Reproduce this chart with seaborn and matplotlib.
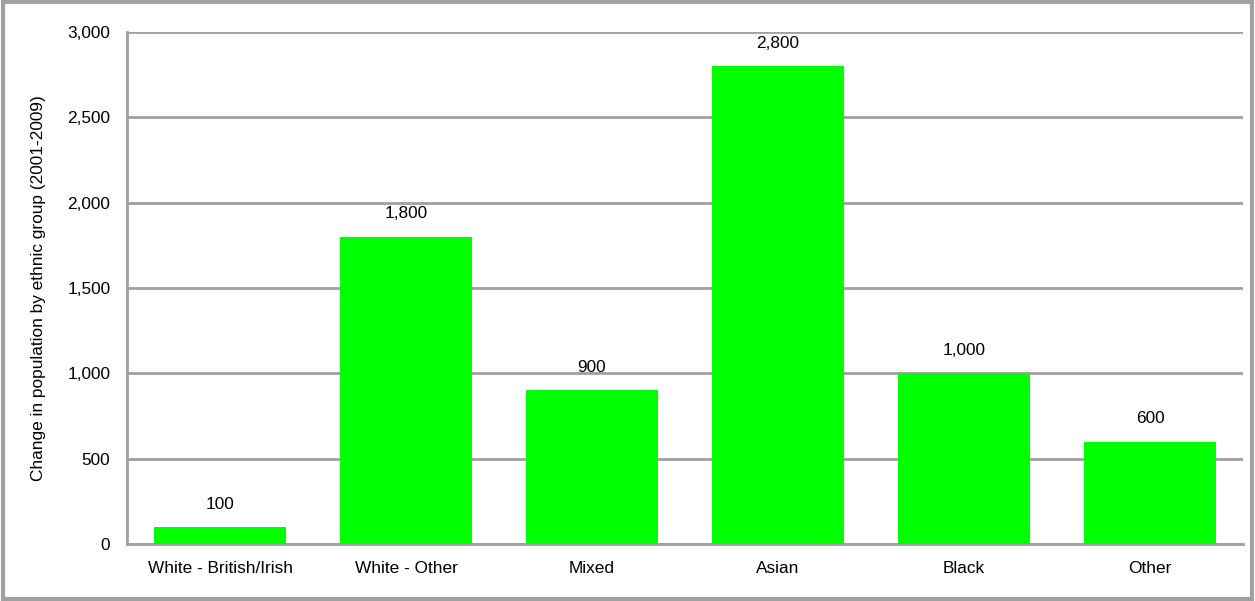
import matplotlib
matplotlib.use("Agg")
import matplotlib.pyplot as plt
import seaborn as sns
import pandas as pd
from matplotlib.patches import Rectangle

groups = ["White - British/Irish", "White - Other", "Mixed", "Asian", "Black", "Other"]
changes = [100, 1800, 900, 2800, 1000, 600]
y_ticks = [0, 500, 1000, 1500, 2000, 2500, 3000]

sns.set_theme(style="white")
plt.rcParams["font.family"] = ["Liberation Sans", "DejaVu Sans"]
plt.rcParams["text.color"] = "black"
plt.rcParams["xtick.labelcolor"] = "black"
plt.rcParams["ytick.labelcolor"] = "black"
plt.rcParams["axes.labelcolor"] = "black"

df = pd.DataFrame({"group": groups, "change": changes})

fig = plt.figure(figsize=(12.55, 6.01), dpi=100)
ax = fig.add_axes([127 / 1255, 1 - 544 / 601, (1243 - 127) / 1255, (544 - 32) / 601])

grey = "#a0a0a0"
fs = 12.4
sns.barplot(data=df, x="group", y="change", color="#00ff00", saturation=1,
            width=0.715, ax=ax, zorder=3)
for p in ax.patches:
    p.set_edgecolor("none")

ax.set_ylim(0, 3000)
ax.set_xlim(-0.5, len(groups) - 0.5)
ax.set_yticks(y_ticks)
ax.set_yticklabels([f"{v:,}" for v in y_ticks], fontsize=fs)
ax.yaxis.grid(True, color=grey, linewidth=2, zorder=0)
ax.set_axisbelow(True)

ax.set_xticks(range(len(groups)))
ax.set_xticklabels(groups, fontsize=fs)
ax.tick_params(axis="x", length=0, pad=12)
ax.set_xticks([i - 0.5 for i in range(len(groups) + 1)], minor=True)
ax.tick_params(axis="x", which="minor", length=6, width=2, color=grey, direction="out")
ax.tick_params(axis="y", length=6, width=2, color=grey, direction="out", pad=6)

for side in ["top", "right"]:
    ax.spines[side].set_visible(False)
for side in ["left", "bottom"]:
    ax.spines[side].set_color(grey)
    ax.spines[side].set_linewidth(2)

for i, v in enumerate(changes):
    ax.text(i, v + 90, f"{v:,}", ha="center", va="bottom", fontsize=fs)

ax.set_xlabel("")
ax.set_ylabel("Change in population by ethnic group (2001-2009)", fontsize=fs, labelpad=15)

fig.patches.append(Rectangle((0.002, 0.003), 0.996, 0.993, transform=fig.transFigure,
                             fill=False, edgecolor=grey, linewidth=3))

fig.savefig("out.png", dpi=100)
